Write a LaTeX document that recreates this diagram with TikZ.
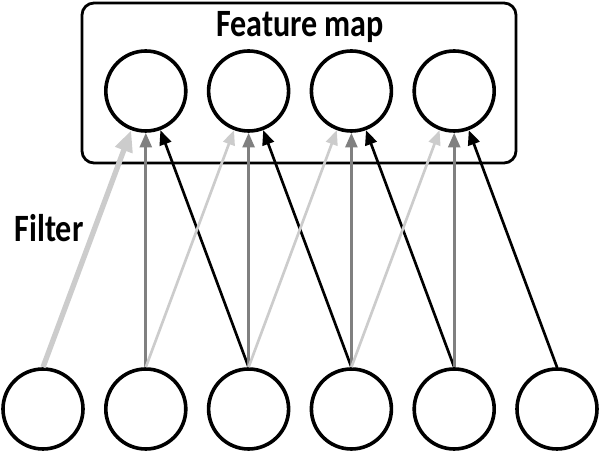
\documentclass[tikz,border=0pt]{standalone}
\usepackage{fontspec}
\setmainfont{Carlito}
\newfontfamily\labelfont[FakeStretch=0.83]{Carlito}
\usetikzlibrary{arrows.meta}
\begin{document}
\begin{tikzpicture}[x=0.75pt,y=0.75pt,unit node/.style={draw=black, circle, line width=2.7pt, minimum size=60pt, inner sep=0pt, fill=white},map box/.style={draw=black, line width=2.1pt, rounded corners=9pt},title node/.style={font=\labelfont\fontsize{29}{34}\selectfont\bfseries, anchor=base, inner sep=0pt},light link/.style={draw=black!20, line width=2pt, -{Triangle[length=11pt, width=9pt]}},mid link/.style={draw=black!50, line width=2pt, -{Triangle[length=11pt, width=9pt]}},dark link/.style={draw=black, line width=2pt, -{Triangle[length=11pt, width=9pt]}},filter link/.style={draw=black!20, line width=4pt, -{Triangle[length=16pt, width=13pt]}}]%
\path[use as bounding box] (0,0) rectangle (600,453);%
  % Feature map box%
\draw[map box] (82,290) rectangle (516,450);%
\node[title node] (maptitle) at (300,416) {Feature map};%
  % Feature map units%
\node[unit node] (t1) at (145.8,362) {};%
\node[unit node] (t2) at (248.6,362) {};%
\node[unit node] (t3) at (351.4,362) {};%
\node[unit node] (t4) at (454.2,362) {};%
  % Input units%
\node[unit node] (b1) at (43.0,44) {};%
\node[unit node] (b2) at (145.8,44) {};%
\node[unit node] (b3) at (248.6,44) {};%
\node[unit node] (b4) at (351.4,44) {};%
\node[unit node] (b5) at (454.2,44) {};%
\node[unit node] (b6) at (557.0,44) {};%
  % Filter label%
\node[title node] (filter) at (49,211) {Filter};%
  % Links into unit 1%
\draw[filter link] (b1.north) -- (t1);%
\draw[mid link] (b2.north) -- (t1);%
\draw[dark link] (b3.north) -- (t1);%
  % Links into unit 2%
\draw[light link] (b2.north) -- (t2);%
\draw[mid link] (b3.north) -- (t2);%
\draw[dark link] (b4.north) -- (t2);%
  % Links into unit 3%
\draw[light link] (b3.north) -- (t3);%
\draw[mid link] (b4.north) -- (t3);%
\draw[dark link] (b5.north) -- (t3);%
  % Links into unit 4%
\draw[light link] (b4.north) -- (t4);%
\draw[mid link] (b5.north) -- (t4);%
\draw[dark link] (b6.north) -- (t4);%
\end{tikzpicture}
\end{document}
